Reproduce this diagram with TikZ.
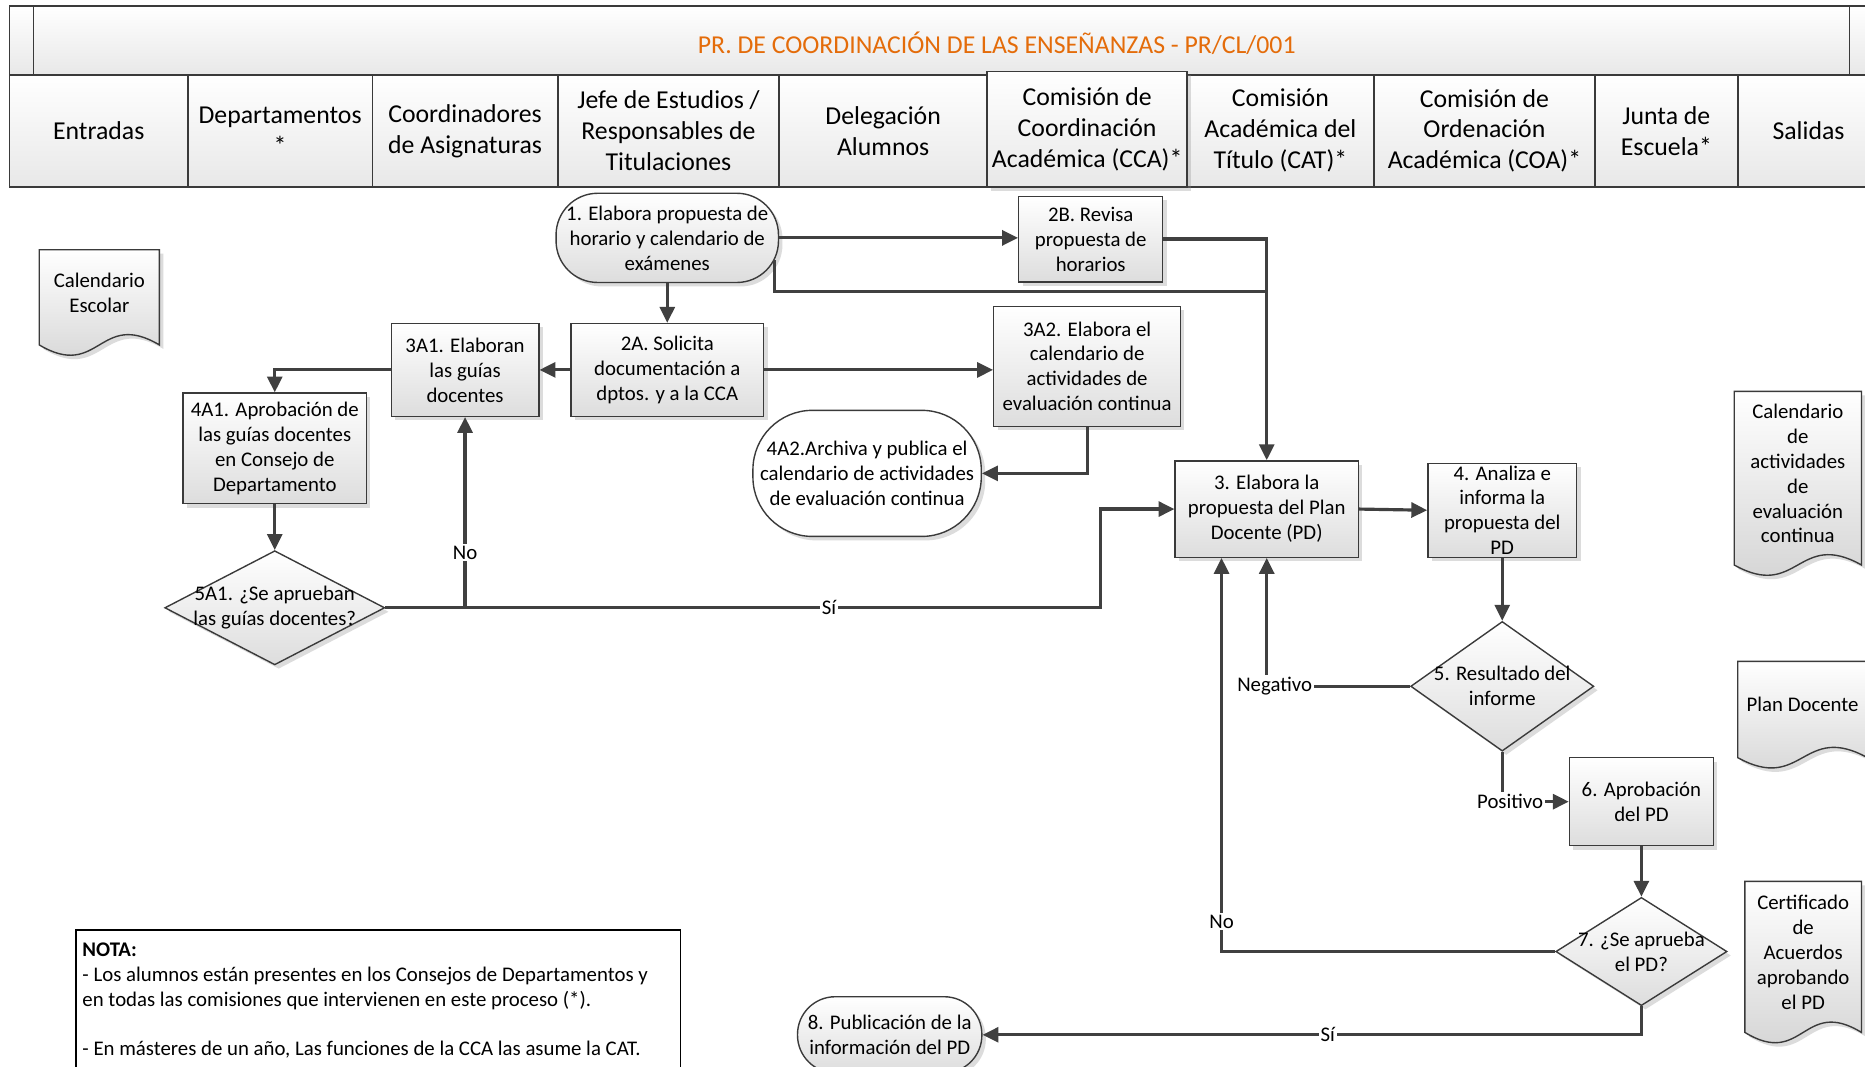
\documentclass[tikz,border=0pt]{standalone}
\usepackage{fontspec}
\setmainfont{Carlito}
\usetikzlibrary{arrows.meta,shapes.geometric,shadows,calc}

\definecolor{flowc}{HTML}{404040}
\definecolor{edgec}{HTML}{3A3A3A}
\definecolor{shadeb}{HTML}{DDDDDD}
\definecolor{titlec}{HTML}{E46C0A}

\newcommand\boxfont{\fontsize{10.5}{12.6}\selectfont}
\newcommand\hdrfont{\fontsize{13}{15.6}\selectfont}

\tikzset{
  sz/.style 2 args={minimum width=#1*0.6pt, minimum height=#2*0.6pt},
  softshadow/.style={drop shadow={shadow xshift=2pt, shadow yshift=-2pt, opacity=0.3, fill=black!45}},
  procbox/.style={draw=edgec, line width=0.7pt, top color=white, bottom color=shadeb,
    softshadow, align=center, inner sep=0pt, font=\boxfont},
  termbox/.style={procbox, rounded corners=#1},
  decbox/.style={diamond, draw=edgec, line width=0.7pt, top color=white, bottom color=shadeb,
    softshadow, inner sep=0pt, aspect=1},
  boxtext/.style={align=center, inner sep=0pt, font=\boxfont},
  hdrcell/.style={draw=edgec, line width=0.8pt, top color=white, bottom color=black!9,
    align=center, inner sep=0pt, font=\hdrfont},
  docbody/.style={draw=edgec, line width=0.7pt, top color=white, bottom color=black!18, softshadow},
  flow/.style={draw=flowc, line width=1.6pt, -{Triangle[length=8pt,width=7.5pt]}},
  plainflow/.style={draw=flowc, line width=1.6pt},
  lbl/.style={fill=white, inner sep=1pt, font=\boxfont, text=black},
}

% document symbol: flat top, wavy bottom edge
\newcommand\docshape[6]{%
  \pgfmathsetmacro\docw{#4-#2}%
  \path[docbody] (#2,#3) -- (#4,#3) -- (#4,#5)
     .. controls ({#4-0.5*\docw},{#5-30}) and ({#2+0.5*\docw},{#5+30}) .. (#2,#5) -- cycle;
  \node[boxtext] (#1) at ({(#2+#4)/2},{(#3+#5)/2-4}) {#6};
}

\begin{document}
\begin{tikzpicture}[x=0.6pt,y=-0.6pt]
\useasboundingbox (0,0) rectangle (1568,897);
\fill[white] (0,0) rectangle (1568,897);

% ---- title band ----
\node[hdrcell, sz={20}{58}] (tleft) at (18,34) {};
\node[hdrcell, sz={1527}{58}] (tmid) at (791.5,34) {};
\node[hdrcell, sz={30}{58}] (tright) at (1570,34) {};
\node[font=\hdrfont, text=titlec, inner sep=0pt] (title) at (838,36)
  {PR. DE COORDINACIÓN DE LAS ENSEÑANZAS - PR/CL/001};

% ---- lane headers ----
\node[hdrcell, sz={150}{94}] (hEnt) at (83,110) {Entradas};
\node[hdrcell, sz={155}{94}] (hDep) at (235.5,110) {Departamentos\\*};
\node[hdrcell, sz={156}{94}] (hCoo) at (391,110) {Coordinadores\\de Asignaturas};
\node[hdrcell, sz={186}{94}] (hJef) at (562,110) {Jefe de Estudios /\\Responsables de\\Titulaciones};
\node[hdrcell, sz={175}{94}] (hDel) at (742.5,110) {Delegación\\Alumnos};
\node[hdrcell, sz={157}{94}] (hCat) at (1076.5,110) {Comisión\\Académica del\\Título (CAT)*};
\node[hdrcell, sz={186}{94}] (hCoa) at (1248,110) {Comisión de\\Ordenación\\Académica (COA)*};
\node[hdrcell, sz={120}{94}] (hJun) at (1401,110) {Junta de\\Escuela*};
\node[hdrcell, sz={119}{94}] (hSal) at (1520.5,110) {Salidas};
\node[hdrcell, sz={168}{97}, softshadow] (hCca) at (914,108.5) {Comisión de\\Coordinación\\Académica (CCA)*};

% ---- input / output documents ----
\docshape{dCal}{33}{210}{134}{290}{Calendario\\Escolar}
\docshape{dAct}{1458}{329}{1565}{475}{Calendario\\de\\actividades\\de\\evaluación\\continua}
\docshape{dPlan}{1461}{556}{1570}{637}{Plan Docente}
\docshape{dCert}{1467}{741}{1565}{868}{Certificado\\de\\Acuerdos\\aprobando\\el PD}

% ---- process steps ----
\node[termbox=21pt, sz={187}{75}] (t1) at (561,200) {1. Elabora propuesta de\\horario y calendario de\\exámenes};
\node[procbox, sz={121}{72}] (b2b) at (917,201) {2B. Revisa\\propuesta de\\horarios};
\node[procbox, sz={162}{78}] (b2a) at (561,311) {2A. Solicita\\documentación a\\dptos. y a la CCA};
\node[procbox, sz={124}{78}] (b3a1) at (391,311) {3A1. Elaboran\\las guías\\docentes};
\node[procbox, sz={157}{101}] (b3a2) at (914,308) {3A2. Elabora el\\calendario de\\actividades de\\evaluación continua};
\node[termbox=30pt, sz={192}{106}, top color=white, bottom color=white] (t4a2) at (729,398)
  {4A2.Archiva y publica el\\calendario de actividades\\de evaluación continua};
\node[procbox, sz={154}{93}] (b4a1) at (231,377) {4A1. Aprobación de\\las guías docentes\\en Consejo de\\Departamento};
\node[decbox, sz={185}{96}] (d5a1) at (231,511) {};
\node[boxtext] (d5a1t) at (d5a1) {5A1. ¿Se aprueban\\las guías docentes?};
\node[procbox, sz={154}{81}] (b3) at (1065,428) {3. Elabora la\\propuesta del Plan\\Docente (PD)};
\node[procbox, sz={125}{79}] (b4) at (1263,429) {4. Analiza e\\informa la\\propuesta del\\PD};
\node[decbox, sz={154}{109}] (d5) at (1263,577) {};
\node[boxtext] (d5t) at (d5) {5. Resultado del\\informe};
\node[procbox, sz={121}{74}] (b6) at (1380,674) {6. Aprobación\\del PD};
\node[decbox, sz={144}{91}] (d7) at (1380,800) {};
\node[boxtext] (d7t) at (d7) {7. ¿Se aprueba\\el PD?};
\node[termbox=19pt, sz={155}{64}] (t8) at (748,870) {8. Publicación de la\\información del PD};

% ---- note ----
\draw[black, line width=0.8pt] (64,782) rectangle (572,915);
\node[anchor=north west, align=left, inner xsep=3pt, inner ysep=6pt, font=\boxfont] (nota) at (64,782)
  {\textbf{NOTA:}\\
   - Los alumnos están presentes en los Consejos de Departamentos y\\
   en todas las comisiones que intervienen en este proceso (*).\\
   \mbox{}\\
   - En másteres de un año, Las funciones de la CCA las asume la CAT.};

% ---- connectors ----
\coordinate (t1out) at (651,219);
\coordinate (j1) at (1065,245);
\coordinate (jno) at (391,511);
\coordinate (jsi) at (925,511);

\draw[flow] (t1.south) -- (b2a.north);
\draw[flow] (t1.east) -- (t1.east -| b2b.west);
\draw[flow] (b2b.east) -| (b3.north);
\draw[plainflow] (t1out) |- (j1);
\draw[flow] (b2a.west) -- (b3a1.east);
\draw[flow] (b2a.east) -- (b2a.east -| b3a2.west);
\draw[flow] (b3a1.west) -| (b4a1.north);
\draw[flow] (b3a2.south) |- (t4a2.east);
\draw[flow] (b4a1.south) -- (d5a1.north);
\draw[plainflow] (d5a1.east) -- (jno);
\draw[flow] (jno) -- node[lbl, pos=0.29] {No} (b3a1.south);
\draw[flow] (jno) -- node[lbl, pos=0.573] {Sí} (jsi) |- (b3.west);
\draw[flow] (b3.east) -- (b4.west);
\draw[flow] (b4.south) -- (d5.north);
\draw[flow] (d5.west) -| node[lbl, pos=0.5, xshift=4pt] {Negativo} (b3.south);
\draw[flow] (d5.south) |- node[lbl, pos=0.5, xshift=4pt] {Positivo} (b6.west);
\draw[flow] (b6.south) -- (d7.north);
\draw[flow] (d7.west) -| node[lbl, pos=0.538] {No} ([xshift=-22.8pt]b3.south);
\draw[flow] (d7.south) |- node[lbl, pos=0.738] {Sí} (t8.east);
\end{tikzpicture}
\end{document}
